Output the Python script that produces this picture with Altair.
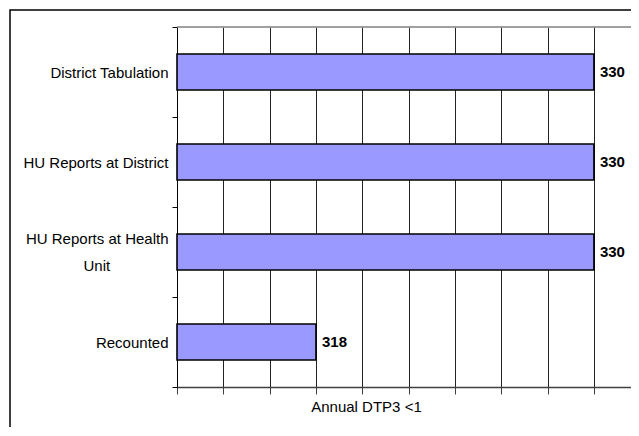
import altair as alt
import pandas as pd

categories = ["District Tabulation", "HU Reports at District", "HU Reports at Health Unit", "Recounted"]
values = [330, 330, 330, 318]
x_ticks = [312, 314, 316, 318, 320, 322, 324, 326, 328, 330]
x_domain = [312, 331.6]
axis_title = "Annual DTP3 <1"

df = pd.DataFrame({"category": categories, "value": values})

PAD = "\u00a0" * 14 + "\u200b"
label_expr = ("datum.label == 'HU Reports at Health Unit' ? "
              "['HU Reports at Health', 'Unit" + PAD + "'] : datum.label")

base = alt.Chart(df)

y_enc = alt.Y(
    "category:N",
    sort=categories,
    scale=alt.Scale(paddingInner=0, paddingOuter=0),
    axis=alt.Axis(
        title=None,
        tickBand="extent",
        grid=False,
        labelExpr=label_expr,
        labelFont="Liberation Sans",
        labelFontSize=15,
        labelColor="black",
        labelPadding=4,
        labelLineHeight=27,
        labelLimit=300,
        labelOffset={
            "condition": {"test": "datum.value == 'HU Reports at Health Unit'", "value": -13.5},
            "value": 0,
        },
        tickSize=5,
        tickColor="black",
        domainColor="black",
        labelBaseline="middle",
    ),
)

x_enc = alt.X(
    "value:Q",
    stack=None,
    scale=alt.Scale(domain=x_domain, zero=False, nice=False),
    axis=alt.Axis(
        title=axis_title,
        values=x_ticks,
        labels=False,
        grid=True,
        gridColor="#222222",
        gridWidth=1,
        tickSize=7,
        tickColor="#404040",
        domainColor="#404040",
        domainWidth=1.5,
        titleFont="Liberation Sans",
        titleFontSize=15,
        titleFontWeight="normal",
        titleColor="black",
        titleX=189,
        titleY=24,
        titleAlign="center",
        titleBaseline="alphabetic",
    ),
)

border = alt.Chart(pd.DataFrame({"a": [0]})).mark_rect(
    fillOpacity=0, stroke="black", strokeWidth=1.5
).encode(
    x=alt.value(-167), x2=alt.value(700), y=alt.value(-17), y2=alt.value(600)
)

top_line = alt.Chart(pd.DataFrame({"a": [0]})).mark_rule(
    color="#808080", strokeWidth=1.5
).encode(x=alt.value(0), x2=alt.value(700), y=alt.value(0))

bars = base.mark_bar(
    height={"band": 0.4}, color="#9999FF", stroke="black", strokeWidth=1.6
).encode(x=x_enc, x2=alt.X2(datum=x_domain[0]), y=y_enc)

labels = base.mark_text(
    align="left", baseline="middle", dx=6, fontWeight="bold", fontSize=15,
    font="Liberation Sans", color="black"
).encode(x=alt.X("value:Q"), y=alt.Y("category:N", sort=categories), text="value:Q")

chart = alt.layer(border, top_line, bars, labels).properties(
    width=454,
    height=360,
    padding={"left": 169, "top": 19, "right": 0, "bottom": 40},
    autosize=alt.AutoSizeParams(type="none"),
    background="white",
).configure_view(strokeWidth=0)

chart.save("out.html", embed_options={"renderer": "svg", "actions": False})
